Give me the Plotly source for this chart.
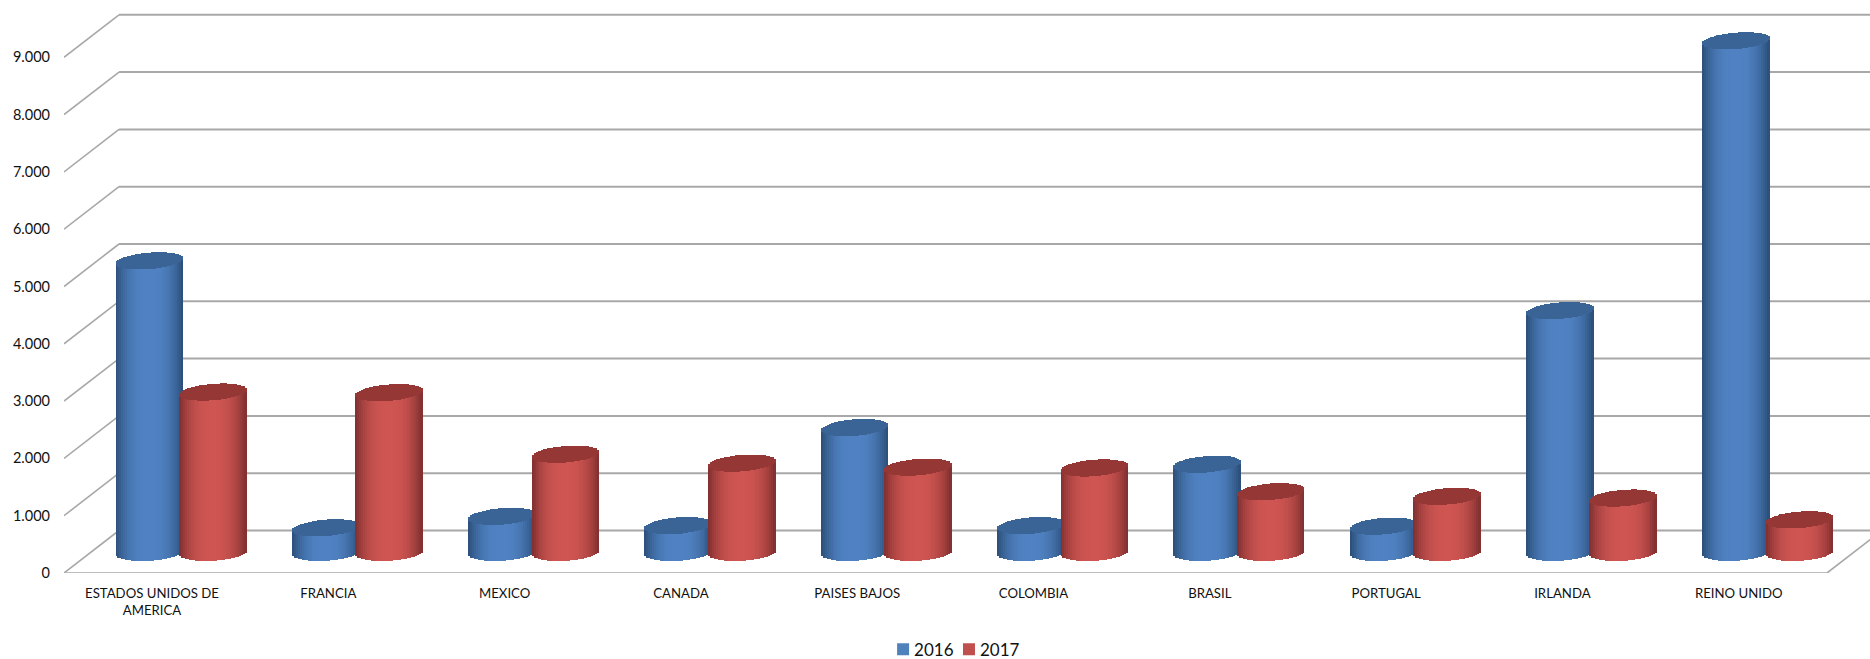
import math
import plotly.graph_objects as go

categories = ["ESTADOS UNIDOS DE<br>AMERICA", "FRANCIA", "MEXICO", "CANADA", "PAISES BAJOS",
              "COLOMBIA", "BRASIL", "PORTUGAL", "IRLANDA", "REINO UNIDO"]
values_2016 = [5090, 430, 630, 470, 2180, 470, 1540, 460, 4220, 8930]
values_2017 = [2800, 2790, 1715, 1560, 1490, 1475, 1060, 980, 950, 570]
y_ticks = [0, 1000, 2000, 3000, 4000, 5000, 6000, 7000, 8000, 9000]

W, H = 1870, 659
LEFT = 64
FLOOR = 573
PX_X = 176.3
PX_Y = 0.0573

x_pos = list(range(len(categories)))
x_range = [-(88.0) / PX_X, (W - LEFT - 88.0) / PX_X]
y_range = [0, FLOOR / PX_Y]

# 3D depth of the walls and of the plane the cylinders stand on
depth_x = 55 / PX_X
depth_y = 42.5 / PX_Y
mid_y = 20.5 / PX_Y
radius = 33.5 / PX_X
cap_b = 8.2 / PX_Y
tilt = 2.6 / PX_Y
slot_left = x_range[0]
slot_right = slot_left + len(categories)

BANDS = 34
bands = [-1 + (j + 0.5) * 2 / BANDS for j in range(BANDS)]


def mix(a, b, f):
    return "rgb(%d,%d,%d)" % tuple(round(a[k] + (b[k] - a[k]) * f) for k in range(3))


def cylinder(values, name, center, edge, bright, cap, legend_color):
    traces = [go.Bar(x=x_pos, y=values, base=mid_y, offset=center - 0.01, width=0.02,
                     marker=dict(color=legend_color, line=dict(width=0)),
                     name=name, legendgroup=name, showlegend=True, hoverinfo="skip")]
    for t in bands:
        ell = math.sqrt(max(0, 1 - t * t))
        shade = 1 - abs(t) ** 2.6
        lo = [mid_y + tilt * t * 0.7 - cap_b * ell for _ in values]
        top = [v + mid_y + tilt * t - cap_b * ell for v in values]
        off = center + (t - 1 / BANDS) * radius
        wid = 2 / BANDS * radius * 1.35
        traces.append(go.Bar(
            x=x_pos, y=[b - a for a, b in zip(lo, top)], base=lo, offset=off, width=wid,
            marker=dict(color=mix(edge, bright, shade), line=dict(width=0)),
            legendgroup=name, showlegend=False, hoverinfo="skip"))
    for t in bands:
        ell = math.sqrt(max(0, 1 - t * t))
        lo = [v + mid_y + tilt * t - cap_b * ell for v in values]
        hi = [v + mid_y + tilt * t + cap_b * ell for v in values]
        off = center + (t - 1 / BANDS) * radius
        wid = 2 / BANDS * radius * 1.35
        traces.append(go.Bar(
            x=x_pos, y=[b - a for a, b in zip(lo, hi)], base=lo, offset=off, width=wid,
            marker=dict(color=cap, line=dict(width=0)),
            legendgroup=name, showlegend=False, hoverinfo="skip"))
    return traces


fig = go.Figure()
for tr in cylinder(values_2016, "2016", -3 / PX_X, (42, 76, 118), (80, 130, 195), "#3A6496", "#4F81BD"):
    fig.add_trace(tr)
for tr in cylinder(values_2017, "2017", 60.5 / PX_X, (125, 46, 46), (206, 85, 81), "#953735", "#C0504D"):
    fig.add_trace(tr)

GRID = "#A8A8A8"
shapes = []
for v in y_ticks:
    shapes.append(dict(type="line", xref="x", yref="y", layer="below",
                       x0=slot_left, y0=v, x1=slot_left + depth_x, y1=v + depth_y,
                       line=dict(color=GRID, width=1.6)))
    shapes.append(dict(type="line", xref="x", yref="y", layer="below",
                       x0=slot_left + depth_x, y0=v + depth_y, x1=x_range[1], y1=v + depth_y,
                       line=dict(color=GRID, width=2)))
shapes.append(dict(type="line", xref="x", yref="y", layer="below",
                   x0=slot_left, y0=0, x1=slot_right, y1=0,
                   line=dict(color=GRID, width=1.6)))
shapes.append(dict(type="line", xref="x", yref="y", layer="below",
                   x0=slot_right, y0=0, x1=slot_right + depth_x, y1=depth_y,
                   line=dict(color=GRID, width=1.6)))

fig.update_layout(
    width=W, height=H, barmode="overlay", bargap=0,
    margin=dict(l=LEFT, r=0, t=0, b=H - FLOOR),
    paper_bgcolor="white", plot_bgcolor="white",
    separators=",.",
    font=dict(family="Lato, Carlito, sans-serif", color="#111111", size=14),
    shapes=shapes,
    showlegend=True,
    legend=dict(orientation="h", xref="container", yref="container",
                x=0.5177, xanchor="center", y=0.014, yanchor="middle",
                font=dict(size=17), itemwidth=30, traceorder="normal",
                bgcolor="rgba(0,0,0,0)", itemclick=False, itemdoubleclick=False),
    xaxis=dict(range=x_range, tickmode="array", tickvals=x_pos, ticktext=categories,
               showgrid=False, zeroline=False, showline=False, ticks="",
               tickangle=0, tickfont=dict(size=13.2), ticklabelstandoff=11),
    yaxis=dict(range=y_range, tickmode="array", tickvals=y_ticks, tickformat=",d",
               showgrid=False, zeroline=False, showline=False, ticks="",
               tickfont=dict(size=14.5), ticklabelstandoff=13),
)

post = """
document.body.style.margin='0';document.body.style.overflow='hidden';
document.querySelectorAll('.legend .traces').forEach(function(tr,i){
  var t=tr.querySelector('.legendtext');
  t.setAttribute('x', parseFloat(t.getAttribute('x'))-9);
  if(i==1){
    var m=/translate\\(([-\\d.]+)[ ,]+([-\\d.]+)\\)/.exec(tr.getAttribute('transform'));
    if(m){tr.setAttribute('transform','translate('+(parseFloat(m[1])-18.7)+','+m[2]+')');}
  }
});
"""
fig.write_html("out.html", post_script=post, config={"displayModeBar": False})
